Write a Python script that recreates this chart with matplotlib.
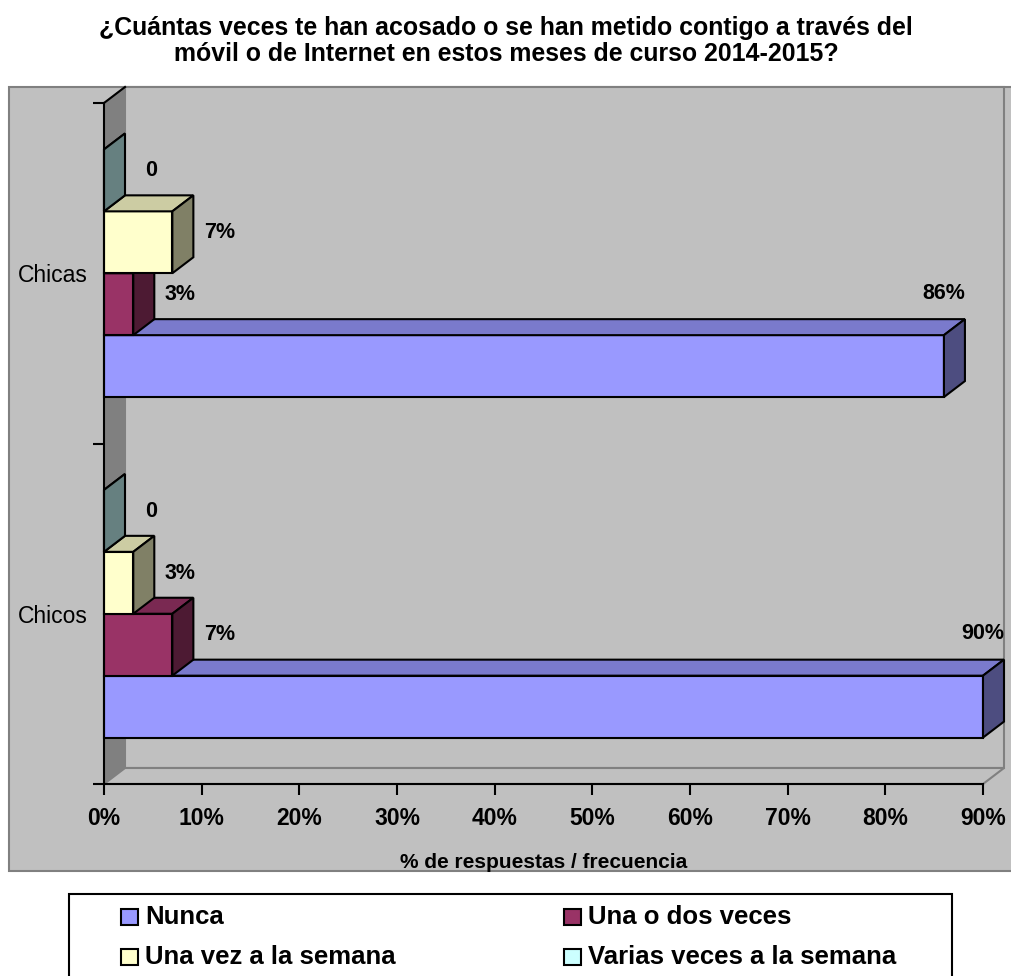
import matplotlib.pyplot as plt
from matplotlib.patches import Polygon, Rectangle

plt.rcParams['font.family'] = ['Liberation Sans', 'DejaVu Sans']

categories = ['Chicos', 'Chicas']
series_names = ['Nunca', 'Una o dos veces', 'Una vez a la semana', 'Varias veces a la semana']
nunca = [90, 86]
una_o_dos = [7, 3]
una_vez = [3, 7]
varias = [0, 0]
x_ticks = [0, 10, 20, 30, 40, 50, 60, 70, 80, 90]

title = ('¿Cuántas veces te han acosado o se han metido contigo a través del\n'
         'móvil o de Internet en estos meses de curso 2014-2015?')
x_title = '% de respuestas / frecuencia'

# front / top / side shades for each series
colors = [
    ('#9999FF', '#7A7ACC', '#4D4D80'),
    ('#993366', '#7A2952', '#4D1A33'),
    ('#FFFFCC', '#CCCCA3', '#808066'),
    ('#CCFFFF', '#A3CCCC', '#668080'),
]

W, H = 1012, 976
fig = plt.figure(figsize=(W / 100, H / 100), dpi=100)


def fx(px):
    return px / W


def fy(py):
    return 1 - py / H


# grey chart area
fig.patches.append(Rectangle((fx(9), fy(871)), fx(1020) - fx(9), (871 - 87) / H,
                             transform=fig.transFigure, facecolor='#C0C0C0',
                             edgecolor='#808080', lw=1.5, zorder=-5))

ax = fig.add_axes([fx(104), fy(784), fx(983) - fx(104), (784 - 103) / H])
ax.set_xlim(0, 90)
ax.set_ylim(0, 2)
ax.patch.set_visible(False)
ax.spines['top'].set_visible(False)
ax.spines['right'].set_visible(False)
for s in ['left', 'bottom']:
    ax.spines[s].set_linewidth(1.5)
    ax.spines[s].set_zorder(20)

# depth of the 3d effect (21 px right, 16 px up)
DX = 90 * 21 / 879
DY = 2 * 16 / 681

ax.add_patch(Rectangle((DX, DY), 90, 2, facecolor='#C0C0C0', edgecolor='#808080',
                       lw=1.5, clip_on=False, zorder=1))
ax.add_patch(Polygon([(0, 0), (DX, DY), (DX, 2 + DY), (0, 2)], closed=True,
                     facecolor='#808080', edgecolor='#808080', lw=1, clip_on=False, zorder=1))
ax.add_patch(Polygon([(0, 0), (90, 0), (90 + DX, DY), (DX, DY)], closed=True,
                     facecolor='#C0C0C0', edgecolor='#808080', lw=1.5, clip_on=False, zorder=1))
ax.plot([0, DX], [2, 2 + DY], color='black', lw=1.5, clip_on=False, zorder=2)

values = [nunca, una_o_dos, una_vez, varias]
h = 1 / 5.5
z = 3
for i, cat in enumerate(categories):
    for j, vals in enumerate(values):
        v = vals[i]
        y0 = i + 0.75 * h + j * h
        front, top, side = colors[j]
        kw = dict(edgecolor='black', lw=1.5, clip_on=False, joinstyle='miter')
        ax.add_patch(Rectangle((0, y0), v, h, facecolor=front, zorder=z, **kw))
        ax.add_patch(Polygon([(0, y0 + h), (v, y0 + h), (v + DX, y0 + h + DY), (DX, y0 + h + DY)],
                             closed=True, facecolor=top, zorder=z, **kw))
        ax.add_patch(Polygon([(v, y0), (v + DX, y0 + DY), (v + DX, y0 + h + DY), (v, y0 + h)],
                             closed=True, facecolor=side, zorder=z, **kw))
        z += 1

        label = '0' if v == 0 else f'{v}%'
        if v >= 50:
            ax.annotate(label, xy=(v, y0 + h + DY), xytext=(0, 18.5), textcoords='offset points',
                        ha='center', va='center', fontsize=15.5, fontweight='bold', zorder=30)
        else:
            ax.annotate(label, xy=(v, y0 + h / 2), xytext=(34, 7), textcoords='offset points',
                        ha='center', va='center', fontsize=15.5, fontweight='bold', zorder=30)

ax.set_xticks(x_ticks)
ax.set_xticklabels([f'{t}%' for t in x_ticks], fontsize=16.5, fontweight='bold')
ax.tick_params(axis='x', direction='out', length=8, width=1.5, pad=8.5)

ax.set_yticks([0, 1, 2])
ax.set_yticklabels(['', '', ''])
ax.set_yticks([0.5, 1.5], minor=True)
ax.set_yticklabels(categories, minor=True, fontsize=16.5)
ax.tick_params(axis='y', which='major', direction='out', length=8, width=1.5)
ax.tick_params(axis='y', which='minor', length=0, pad=11.5)

fig.text(fx(543.5), fy(863), x_title, ha='center', va='center',
         fontsize=15, fontweight='bold')
fig.text(0.5, fy(41), title, ha='center', va='center', fontsize=17.9,
         fontweight='bold', linespacing=1.15)

# legend box
fig.patches.append(Rectangle((fx(69), fy(1000)), fx(952) - fx(69), (1000 - 894) / H,
                             transform=fig.transFigure, facecolor='white',
                             edgecolor='black', lw=1.5, zorder=1))
for k, name in enumerate(series_names):
    col, row = k % 2, k // 2
    mx = [121, 564][col]
    my = 917 + 40 * row
    fig.patches.append(Rectangle((fx(mx), fy(my + 8)), 17 / W, 16 / H,
                                 transform=fig.transFigure, facecolor=colors[k][0],
                                 edgecolor='black', lw=1.5, zorder=2))
    fig.text(fx(mx + 24), fy(my), name, ha='left', va='center', fontsize=18.5,
             fontweight='bold')

fig.savefig('out.png', dpi=100)
